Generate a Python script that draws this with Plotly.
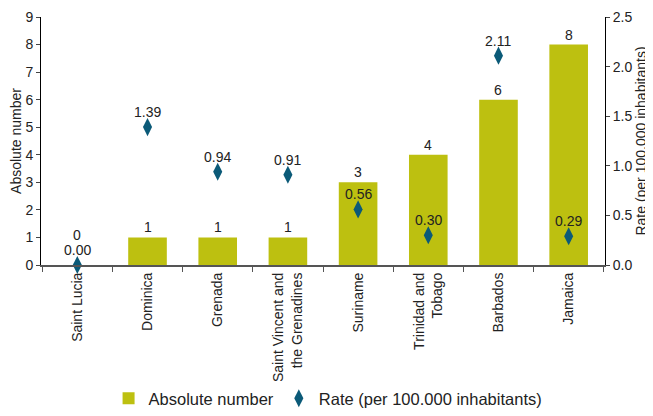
import plotly.graph_objects as go

countries = [
    "Saint Lucia", "Dominica", "Grenada", "Saint Vincent and<br>the Grenadines",
    "Suriname", "Trinidad and<br>Tobago", "Barbados", "Jamaica",
]
absolute_number = [0, 1, 1, 1, 3, 4, 6, 8]
rate_per_100k = [0.00, 1.39, 0.94, 0.91, 0.56, 0.30, 2.11, 0.29]

BAR_COLOR = "#BDC010"
DIAMOND_COLOR = "#0B5A78"
TEXT_COLOR = "#222222"
FONT = "Liberation Sans, Arial, sans-serif"

fig = go.Figure()

fig.add_trace(go.Bar(
    x=countries,
    y=absolute_number,
    name="Absolute number",
    marker=dict(color=BAR_COLOR, line=dict(width=0)),
    yaxis="y",
))

fig.add_trace(go.Scatter(
    x=countries,
    y=rate_per_100k,
    name="Rate (per 100.000 inhabitants)",
    mode="markers",
    marker=dict(symbol="diamond-tall", size=13, color=DIAMOND_COLOR),
    yaxis="y2",
    cliponaxis=False,
))

# value labels; a zero bar label is lifted above the rate label, as in the original
for c, v in zip(countries, absolute_number):
    fig.add_annotation(
        x=c, y=v, xref="x", yref="y",
        text=str(v), showarrow=False,
        yanchor="bottom", yshift=20 if v == 0 else 0,
        font=dict(size=14, color=TEXT_COLOR, family=FONT),
    )

for c, r in zip(countries, rate_per_100k):
    fig.add_annotation(
        x=c, y=r, xref="x", yref="y2",
        text=f"{r:.2f}", showarrow=False,
        yanchor="bottom", yshift=5,
        font=dict(size=14, color=TEXT_COLOR, family=FONT),
    )

# the page body keeps its default 8px margin, so the figure is sized to fit inside it
fig.update_layout(
    width=645,
    height=408,
    margin=dict(l=33, r=48, t=9, b=151),
    plot_bgcolor="white",
    paper_bgcolor="white",
    font=dict(family=FONT, size=14, color=TEXT_COLOR),
    bargap=0.45,
    showlegend=True,
    legend=dict(
        orientation="h",
        x=0.509, xanchor="center", xref="paper",
        y=0.0, yanchor="bottom", yref="container",
        font=dict(size=16.5),
        itemwidth=30,
    ),
    xaxis=dict(
        tickangle=-90,
        showline=True, linecolor="#555555", linewidth=2,
        ticks="outside", ticklen=5, tickcolor="#555555",
        tickson="boundaries",
        showgrid=False,
        tickfont=dict(size=14),
        automargin=False,
    ),
    yaxis=dict(
        title=dict(text="Absolute number", font=dict(size=14), standoff=4),
        range=[0, 9], dtick=1,
        showline=True, linecolor="#000000", linewidth=1,
        ticks="outside", ticklen=4,
        showgrid=False, zeroline=False,
        tickfont=dict(size=14),
        ticklabeloverflow="allow",
        automargin=False,
    ),
    yaxis2=dict(
        title=dict(text="Rate (per 100.000 inhabitants)", font=dict(size=14), standoff=4),
        overlaying="y", side="right",
        range=[0, 2.5], dtick=0.5, tickformat=".1f",
        showline=True, linecolor="#000000", linewidth=1,
        ticks="outside", ticklen=4,
        showgrid=False, zeroline=False,
        tickfont=dict(size=14),
        ticklabeloverflow="allow",
        automargin=False,
    ),
)

fig.write_html("out.html")
